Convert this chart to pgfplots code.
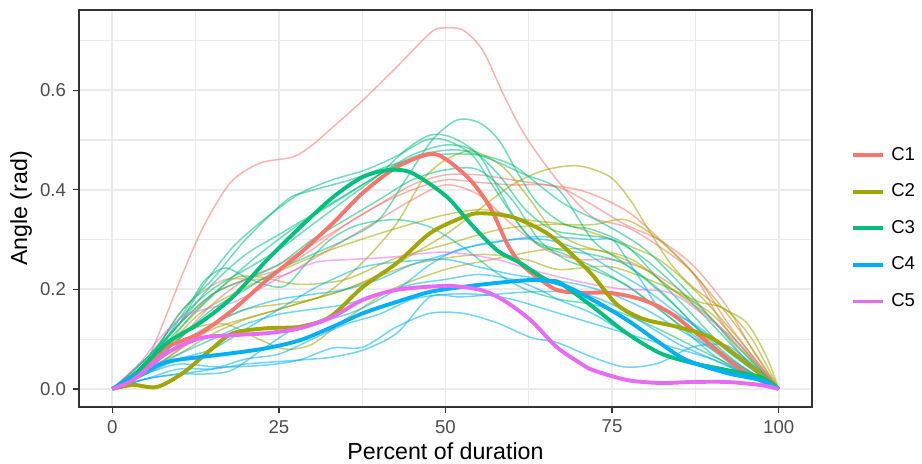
\documentclass[border=0pt]{standalone}
\usepackage{fontspec}
\setmainfont{Liberation Sans}
\usepackage{pgfplots}
\pgfplotsset{compat=1.18}
\definecolor{cA}{HTML}{F8766D}
\definecolor{cB}{HTML}{A3A500}
\definecolor{cC}{HTML}{00BF7D}
\definecolor{cD}{HTML}{00B0F6}
\definecolor{cE}{HTML}{E76BF3}
\definecolor{gridc}{HTML}{EBEBEB}
\definecolor{borderc}{HTML}{333333}
\definecolor{tickc}{HTML}{4D4D4D}
\pgfplotsset{
  thinA/.style={cA, opacity=0.55, line width=0.75pt, smooth, tension=0.5, forget plot},
  thinB/.style={cB, opacity=0.55, line width=0.75pt, smooth, tension=0.5, forget plot},
  thinC/.style={cC, opacity=0.55, line width=0.75pt, smooth, tension=0.5, forget plot},
  thinD/.style={cD, opacity=0.55, line width=0.75pt, smooth, tension=0.5, forget plot},
  thinE/.style={cE, opacity=0.55, line width=0.75pt, smooth, tension=0.5, forget plot},
  thick/.style={line width=1.95pt, smooth, tension=0.5},
}
\begin{document}
\begin{tikzpicture}
\useasboundingbox (0,0) rectangle (461pt,232pt);
\begin{axis}[
  at={(39.5pt,28.5pt)}, anchor=south west,
  scale only axis, width=366.5pt, height=198.5pt,
  xmin=-5, xmax=105, ymin=-0.03625, ymax=0.76125,
  xtick={0,25,50,75,100}, minor xtick={12.5,37.5,62.5,87.5},
  ytick={0,0.2,0.4,0.6}, minor ytick={0.1,0.3,0.5,0.7},
  xtick pos=bottom, ytick pos=left,
  grid=both,
  major grid style={color=gridc, line width=0.9pt},
  minor grid style={color=gridc, line width=0.55pt},
  axis line style={color=borderc, line width=0.8pt},
  tick align=outside, major tick length=3pt, minor tick length=0pt,
  tick style={color=borderc, line width=0.6pt},
  /pgf/number format/assume math mode=true,
  yticklabel={\pgfmathprintnumber[fixed, fixed zerofill, precision=1]{\tick}},
  xticklabel style={font=\fontsize{9.3}{11}\selectfont, text=tickc},
  yticklabel style={font=\fontsize{9.3}{11}\selectfont, text=tickc},
  xlabel={Percent of duration}, ylabel={Angle (rad)},
  xlabel style={font=\fontsize{11.6}{14}\selectfont, at={(axis description cs:0.5,-0.1335)}, anchor=base},
  ylabel style={font=\fontsize{11.6}{14}\selectfont, at={(axis description cs:-0.0709,0.5)}, anchor=base},
  legend style={at={(1.0532,0.45)}, anchor=west, draw=none, fill=none, inner sep=0pt,
    font=\fontsize{9.3}{11}\selectfont, row sep=8.3pt, column sep=2pt,
    nodes={inner sep=1pt}},
  legend cell align=left,
  legend image code/.code={\draw[#1, line width=1.95pt] (0pt,0pt) -- (15pt,0pt);},
]
% ---- C1 individual ----
\addplot[thinA] coordinates {(0,0) (3,0.02) (5,0.05) (7.2,0.118) (10.6,0.233) (13.2,0.313) (15.5,0.37) (18.1,0.42) (22.2,0.454) (27.1,0.466) (30,0.49) (33.1,0.526) (37.6,0.58) (42.7,0.647) (47.7,0.715) (49.6,0.725) (52.6,0.721) (55.6,0.68) (58.6,0.594) (61.2,0.526) (63.7,0.474) (67.6,0.406) (72.1,0.345) (77.2,0.325) (82.2,0.285) (87.1,0.233) (91.2,0.139) (95.2,0.072) (100,0)};
\addplot[thinA] coordinates {(0,0) (5,0.05) (10,0.13) (15,0.19) (20,0.22) (25,0.24) (30,0.28) (35,0.33) (40,0.37) (45,0.41) (50,0.43) (55,0.43) (60,0.42) (65,0.41) (68,0.4) (72,0.37) (77,0.33) (82,0.3) (87,0.25) (92,0.17) (96,0.08) (100,0)};
\addplot[thinA] coordinates {(0,0) (5,0.04) (10,0.1) (15,0.17) (20,0.22) (25,0.25) (30,0.29) (35,0.33) (40,0.37) (45,0.4) (50,0.42) (55,0.415) (60,0.41) (65,0.41) (70,0.4) (74,0.38) (78,0.35) (83,0.29) (88,0.22) (93,0.12) (100,0)};
\addplot[thinA] coordinates {(0,0) (5,0.05) (10,0.15) (13,0.19) (17,0.22) (22,0.22) (26,0.23) (30,0.26) (35,0.3) (40,0.34) (45,0.38) (50,0.41) (55,0.39) (60,0.33) (65,0.28) (70,0.26) (75,0.26) (80,0.24) (85,0.2) (90,0.14) (95,0.06) (100,0)};
% ---- C2 individual ----
\addplot[thinB] coordinates {(0,0) (5,0.03) (10,0.07) (15,0.11) (20,0.14) (25,0.16) (30,0.18) (35,0.2) (40,0.23) (45,0.27) (50,0.31) (55,0.36) (60,0.41) (65,0.44) (70,0.448) (74.7,0.426) (77.7,0.38) (80,0.33) (83.7,0.253) (87.1,0.205) (91.2,0.165) (95.2,0.133) (98.2,0.064) (100,0)};
\addplot[thinB] coordinates {(0,0) (5,0.03) (10,0.08) (15,0.13) (20,0.16) (25,0.17) (30,0.18) (33,0.2) (38,0.26) (42.7,0.333) (46.6,0.42) (50,0.46) (54,0.478) (58.6,0.446) (62.7,0.38) (66,0.32) (70,0.29) (75,0.27) (80,0.24) (85,0.19) (90,0.14) (95,0.07) (100,0)};
\addplot[thinB] coordinates {(0,0) (6,0.05) (12,0.15) (18,0.22) (22,0.225) (28,0.21) (35,0.22) (42,0.26) (50,0.29) (58,0.32) (65,0.33) (72,0.33) (77,0.34) (82,0.3) (88,0.22) (94,0.12) (100,0)};
\addplot[thinB] coordinates {(0,0) (6,0.06) (12,0.12) (17,0.13) (22,0.1) (26,0.08) (30,0.09) (35,0.14) (42,0.2) (50,0.24) (57,0.26) (65,0.28) (72,0.28) (78,0.26) (84,0.2) (90,0.15) (96,0.06) (100,0)};
\addplot[thinB] coordinates {(0,0) (8,0.06) (15,0.12) (25,0.16) (35,0.2) (45,0.25) (55,0.27) (62,0.26) (67,0.24) (75,0.245) (84,0.2) (88,0.175) (92,0.16) (96,0.1) (100,0)};
\addplot[thinB] coordinates {(0,0) (7,0.07) (13,0.15) (18,0.19) (24,0.23) (30,0.265) (35,0.29) (42,0.32) (50,0.35) (56,0.36) (62,0.34) (68,0.33) (75,0.3) (82,0.26) (88,0.19) (94,0.1) (100,0)};
% ---- C3 individual ----
\addplot[thinC] coordinates {(0,0) (5,0.05) (10,0.15) (15,0.22) (20,0.3) (26.2,0.38) (29.2,0.396) (35.7,0.42) (42,0.45) (48,0.47) (55,0.47) (60,0.45) (64,0.41) (68,0.37) (74,0.33) (80,0.28) (86,0.2) (92,0.11) (100,0)};
\addplot[thinC] coordinates {(0,0) (5,0.04) (10,0.1) (15,0.16) (20,0.2) (25,0.24) (30,0.27) (35,0.3) (40,0.34) (44,0.42) (48,0.5) (51.7,0.54) (55,0.535) (58,0.5) (61,0.43) (64,0.37) (68,0.33) (72,0.32) (77,0.29) (82,0.22) (87,0.15) (92,0.08) (97,0.03) (100,0)};
\addplot[thinC] coordinates {(0,0) (5,0.06) (10,0.14) (15,0.2) (20,0.24) (25,0.28) (30,0.33) (35,0.38) (40,0.43) (44,0.48) (47.7,0.51) (51,0.505) (55,0.47) (58,0.4) (61,0.33) (64,0.29) (68,0.27) (73,0.24) (78,0.2) (84,0.14) (90,0.07) (95,0.03) (100,0)};
\addplot[thinC] coordinates {(0,0) (5,0.05) (10,0.13) (15,0.21) (20,0.27) (25,0.31) (30,0.35) (35,0.39) (40,0.43) (45,0.47) (50,0.49) (54,0.48) (58,0.43) (62,0.36) (66,0.32) (70,0.31) (75,0.3) (80,0.26) (85,0.2) (90,0.13) (95,0.06) (100,0)};
\addplot[thinC] coordinates {(0,0) (5,0.06) (10,0.13) (13.2,0.2) (18.1,0.285) (23.2,0.345) (28.2,0.393) (33,0.42) (38,0.44) (43,0.47) (47,0.5) (50,0.5) (54,0.47) (57,0.41) (60,0.35) (63,0.3) (67,0.28) (72,0.27) (77,0.25) (82,0.2) (88,0.12) (94,0.05) (100,0)};
\addplot[thinC] coordinates {(0,0) (4,0.04) (8,0.1) (12,0.18) (14,0.22) (17,0.243) (20.7,0.22) (25.6,0.205) (29,0.25) (32.7,0.3) (37,0.33) (42.7,0.34) (47.7,0.325) (52.6,0.285) (57.7,0.233) (62,0.2) (67,0.18) (72,0.17) (77,0.15) (82,0.12) (88,0.08) (94,0.04) (100,0)};
\addplot[thinC] coordinates {(0,0) (5,0.05) (10,0.12) (16,0.2) (22,0.27) (28,0.33) (34,0.38) (40,0.43) (46,0.47) (52,0.48) (57,0.46) (62,0.43) (67,0.4) (72,0.3) (76,0.26) (80,0.22) (85,0.16) (90,0.09) (95,0.04) (100,0)};
\addplot[thinC] coordinates {(0,0) (5,0.06) (10,0.13) (15,0.19) (20,0.22) (25,0.25) (30,0.3) (35,0.34) (40,0.38) (45,0.42) (50,0.44) (55,0.44) (60,0.38) (64,0.3) (68,0.26) (72,0.24) (77,0.21) (82,0.16) (87,0.11) (93,0.05) (100,0)};
% ---- C4 individual ----
\addplot[thinD] coordinates {(0,0) (5,0.03) (10,0.06) (15,0.08) (20,0.12) (25,0.16) (30,0.2) (33,0.22) (37.6,0.245) (42.7,0.255) (50,0.26) (55,0.245) (60,0.23) (65,0.22) (70,0.21) (75,0.19) (80,0.16) (85,0.12) (90,0.08) (95,0.04) (100,0)};
\addplot[thinD] coordinates {(0,0) (5,0.03) (10,0.05) (16,0.044) (23,0.048) (28,0.058) (33,0.082) (37.6,0.084) (42.7,0.125) (47.7,0.152) (52.6,0.152) (57.7,0.133) (62.7,0.104) (67,0.092) (72,0.064) (77,0.044) (82,0.052) (87,0.084) (92,0.088) (96,0.05) (100,0)};
\addplot[thinD] coordinates {(0,0) (5,0.02) (10,0.04) (15,0.04) (20,0.05) (25,0.055) (30,0.06) (33,0.064) (37.6,0.078) (42.7,0.112) (47.7,0.185) (52.6,0.185) (62.7,0.195) (70,0.193) (75,0.17) (80,0.13) (85,0.09) (90,0.06) (95,0.03) (100,0)};
\addplot[thinD] coordinates {(0,0) (5,0.02) (10,0.03) (14,0.03) (18,0.038) (23,0.084) (28,0.125) (35.7,0.152) (42.7,0.2) (47.7,0.25) (52,0.28) (57.7,0.295) (62.7,0.305) (67,0.305) (72,0.3) (75,0.3) (77,0.265) (80,0.205) (82,0.165) (87,0.133) (92,0.084) (97,0.038) (100,0)};
\addplot[thinD] coordinates {(0,0) (5,0.04) (10,0.07) (15,0.1) (20,0.13) (25,0.15) (30,0.16) (35,0.17) (40,0.19) (45,0.21) (50,0.22) (55,0.23) (60,0.22) (64,0.2) (67,0.179) (72,0.152) (77,0.112) (82,0.072) (87,0.054) (92,0.04) (97,0.02) (100,0)};
\addplot[thinD] coordinates {(0,0) (5,0.02) (10,0.03) (15,0.04) (20,0.06) (25,0.07) (30,0.1) (35,0.13) (40,0.15) (45,0.18) (50,0.19) (55,0.19) (60,0.18) (65,0.16) (70,0.14) (75,0.12) (80,0.1) (85,0.08) (90,0.06) (95,0.03) (100,0)};
\addplot[thinD] coordinates {(0,0) (5,0.04) (10,0.09) (15,0.13) (20,0.16) (25,0.18) (30,0.19) (35,0.2) (40,0.22) (45,0.25) (50,0.27) (55,0.29) (60,0.3) (65,0.3) (70,0.28) (75,0.24) (80,0.2) (85,0.15) (90,0.1) (95,0.05) (100,0)};
% ---- C5 individual ----
\addplot[thinE] coordinates {(0,0) (4,0.05) (7,0.1) (10.6,0.145) (14.7,0.163) (18,0.173) (22,0.2) (26,0.23) (30.7,0.255) (35.7,0.26) (42,0.265) (50,0.275) (57.7,0.26) (62.7,0.24) (67,0.225) (72,0.21) (77,0.2) (83.7,0.193) (89.7,0.139) (94.6,0.084) (100,0)};
% ---- means ----
\addplot[thick, cA] coordinates {(0,0) (3,0.02) (5.7,0.05) (8.2,0.084) (13.2,0.112) (18.1,0.159) (23.2,0.219) (28.2,0.273) (33.1,0.333) (37.6,0.394) (42.7,0.446) (47.7,0.472) (50.2,0.46) (53.7,0.42) (56.7,0.365) (59.2,0.293) (61.2,0.253) (63.7,0.225) (66.7,0.199) (70.2,0.193) (74.7,0.193) (79.6,0.179) (83.7,0.153) (87.1,0.118) (90.7,0.078) (93.7,0.045) (97.2,0.018) (100,0)};
\addlegendentry{C1}
\addplot[thick, cB] coordinates {(0,0) (3.1,0.008) (6.7,0.004) (10.6,0.032) (14.7,0.078) (18.1,0.112) (23.2,0.122) (28.2,0.125) (32.7,0.145) (37.6,0.205) (42.7,0.253) (47.7,0.313) (52.6,0.345) (55.2,0.353) (60.1,0.345) (65.2,0.313) (69,0.27) (72.1,0.228) (75.7,0.17) (79.6,0.141) (84.7,0.125) (89.7,0.104) (94.6,0.058) (100,0)};
\addlegendentry{C2}
\addplot[thick, cC] coordinates {(0,0) (3,0.025) (8.2,0.092) (13.2,0.133) (18.1,0.185) (23.2,0.259) (28.2,0.325) (33.1,0.385) (37.6,0.426) (41.7,0.44) (45.1,0.433) (50.2,0.386) (53.7,0.333) (57.7,0.279) (61.2,0.253) (65.2,0.219) (67.2,0.213) (72.1,0.165) (77.2,0.112) (82.2,0.072) (87.1,0.052) (92.2,0.038) (97.2,0.024) (100,0)};
\addlegendentry{C3}
\addplot[thick, cD] coordinates {(0,0) (3.1,0.024) (8.2,0.054) (13.2,0.064) (18.1,0.072) (23.2,0.082) (28.2,0.098) (33.1,0.125) (37.6,0.152) (42.7,0.175) (47.7,0.195) (52.6,0.205) (57.7,0.213) (63.7,0.219) (67.6,0.209) (72.1,0.179) (77.2,0.139) (82.2,0.092) (86.2,0.058) (92.2,0.032) (97.2,0.018) (100,0)};
\addlegendentry{C4}
\addplot[thick, cE] coordinates {(0,0) (3.1,0.018) (8.2,0.072) (13.2,0.102) (18.1,0.108) (23.2,0.112) (28.2,0.122) (33.1,0.145) (37.6,0.179) (42.7,0.199) (50.2,0.207) (55.2,0.199) (58.6,0.179) (62.7,0.139) (66.7,0.084) (70.2,0.052) (72.1,0.038) (77.2,0.018) (82.2,0.012) (87.1,0.014) (92.2,0.014) (97.2,0.008) (100,0)};
\addlegendentry{C5}
\end{axis}
\end{tikzpicture}
\end{document}
